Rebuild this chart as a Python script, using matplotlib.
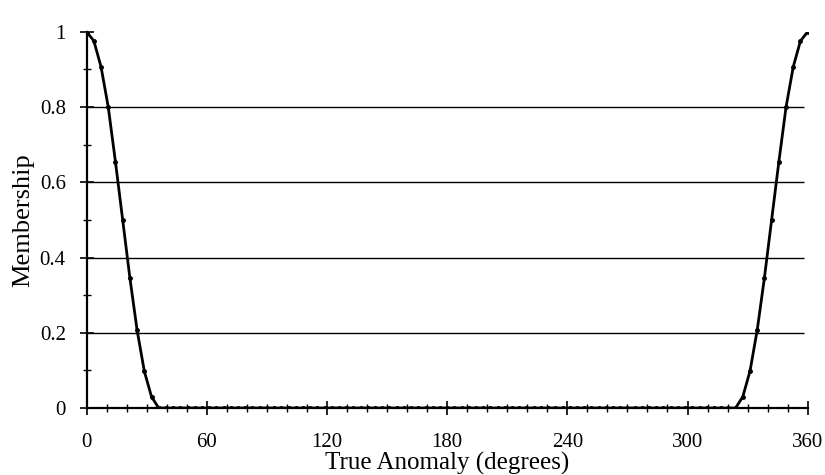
import matplotlib.pyplot as plt
import numpy as np
from matplotlib.ticker import MultipleLocator, FormatStrFormatter

plt.rcParams['font.family'] = ['Liberation Serif', 'DejaVu Serif']

# sample spacing of the curve is 3.6 degrees (101 points over 0..360)
anomaly = np.linspace(0, 360, 101)
falling = [1.0, 0.976, 0.907, 0.80, 0.654, 0.50, 0.346, 0.207, 0.098, 0.03, 0.0]
rising = [0.0, 0.03, 0.098, 0.207, 0.346, 0.50, 0.654, 0.80, 0.907, 0.976, 1.0]
flat = [0.0] * (101 - len(falling) - len(rising))
membership = np.array(falling + flat + rising)

grid_levels = [0.2, 0.4, 0.6, 0.8]
x_ticks = [0, 60, 120, 180, 240, 300, 360]
y_ticks = [0, 0.2, 0.4, 0.6, 0.8, 1]

fig = plt.figure(figsize=(8.25, 4.75), dpi=100)
ax = fig.add_axes([0.105, 0.141, 0.874, 0.792])

# gridlines stop a little short of the right end
ax.hlines(grid_levels, 0, 358, color='black', linewidth=1.0, zorder=1)

ax.plot(anomaly, membership, color='black', linewidth=2, marker='o', markersize=2.5, zorder=3)

ax.set_xlim(0, 360)
ax.set_ylim(0, 1)
ax.set_xticks(x_ticks)
ax.set_yticks(y_ticks)
ax.xaxis.set_minor_locator(MultipleLocator(10))
ax.yaxis.set_minor_locator(MultipleLocator(0.1))
ax.yaxis.set_major_formatter(FormatStrFormatter('%g'))

ax.spines['top'].set_visible(False)
ax.spines['right'].set_visible(False)
ax.spines['left'].set_linewidth(1.6)
ax.spines['bottom'].set_linewidth(1.6)
ax.tick_params(which='major', direction='inout', length=10, width=1.2, labelsize=15)
ax.tick_params(which='minor', direction='inout', length=6, width=1.0)
ax.tick_params(axis='x', which='major', pad=13)
ax.tick_params(axis='y', which='major', pad=10)

ax.set_xlabel("True Anomaly (degrees)", fontsize=18, labelpad=0)
ax.set_ylabel("Membership", fontsize=19, labelpad=4)

fig.savefig('out.png', dpi=100)
